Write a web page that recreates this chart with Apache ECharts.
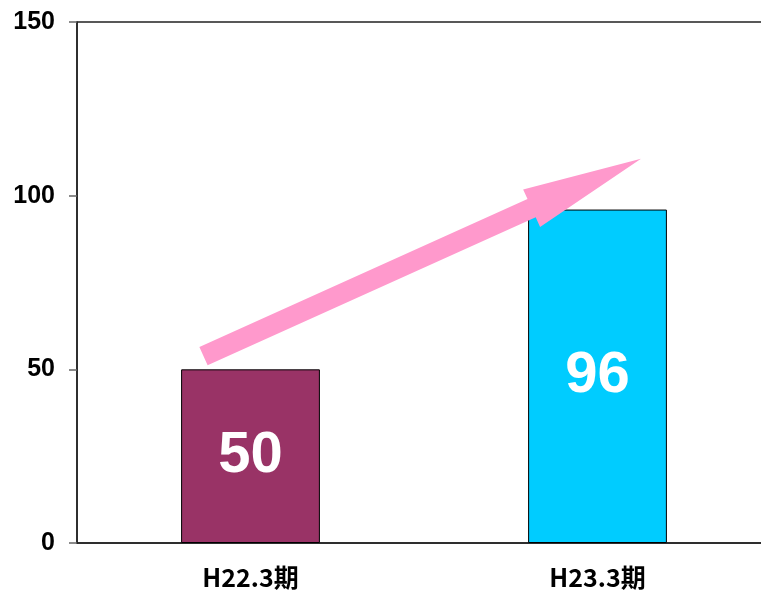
<!DOCTYPE html>
<html>
<head>
<meta charset="utf-8">
<script src="https://cdn.jsdelivr.net/npm/echarts@6/dist/echarts.min.js"></script>
<style>html,body{margin:0;padding:0;background:#fff}#c{width:761px;height:592px}</style>
</head>
<body>
<div id="c"></div>
<script>
const categories = ['H22.3期', 'H23.3期'];
const values = [50, 96];
const barColors = ['#993366', '#00CCFF'];
const yTicks = [0, 50, 100, 150];

const chart = echarts.init(document.getElementById('c'), null, {renderer: 'canvas'});
const sans = '"Liberation Sans Narrow", "Liberation Sans", Arial, sans-serif';
chart.setOption({
  animation: false,
  grid: {left: 77, top: 22, height: 521, width: 694, outerBoundsMode: 'none', containLabel: false,
         show: true, borderColor: '#222', borderWidth: 1.5, backgroundColor: 'transparent'},
  xAxis: {
    type: 'category', data: categories,
    axisLine: {lineStyle: {color: '#222', width: 1.5}},
    axisTick: {show: false},
    axisLabel: {color: '#000', fontFamily: '"Liberation Sans Narrow", "Noto Sans CJK JP", sans-serif', fontWeight: 'bold', fontSize: 25, margin: 22}
  },
  yAxis: {
    type: 'value', min: yTicks[0], max: yTicks[yTicks.length - 1], interval: 50,
    axisLine: {show: true, lineStyle: {color: '#222', width: 1.5}},
    axisTick: {show: true, length: 8, lineStyle: {color: '#666', width: 1.5}},
    splitLine: {show: false},
    axisLabel: {color: '#000', fontFamily: sans, fontWeight: 'bold', fontSize: 25, margin: 22}
  },
  series: [{
    type: 'bar', barWidth: '40%',
    data: values.map((v, i) => ({value: v, itemStyle: {color: barColors[i]}})),
    itemStyle: {borderColor: '#000', borderWidth: 1},
    label: {show: true, position: 'inside', color: '#fff', fontFamily: sans, fontWeight: 'bold', fontSize: 58}
  }]
});

// decorative arrow from top of first bar towards above the second bar
function drawArrow() {
  const b0 = chart.convertToPixel({seriesIndex: 0}, [0, 53.8]);
  const b1 = chart.convertToPixel({seriesIndex: 0}, [1, 110.6]);
  const tail = [b0[0] - 47, b0[1]];
  const tip = [b1[0] + 43.5, b1[1]];
  const dx = tip[0] - tail[0], dy = tip[1] - tail[1];
  const L = Math.hypot(dx, dy);
  const u = [dx / L, dy / L], n = [-u[1], u[0]];
  const sw = 10, hw = 20.6, hl = 120;
  const base = [tip[0] - u[0] * hl, tip[1] - u[1] * hl];
  const p = (c, k) => [c[0] + n[0] * k, c[1] + n[1] * k];
  const pts = [p(tail, sw), p(base, sw), p(base, hw), tip, p(base, -hw), p(base, -sw), p(tail, -sw)];
  chart.setOption({graphic: [{type: 'polygon', z: 100, shape: {points: pts}, style: {fill: '#FF99CC'}}]});
}
drawArrow();
</script>
</body>
</html>
